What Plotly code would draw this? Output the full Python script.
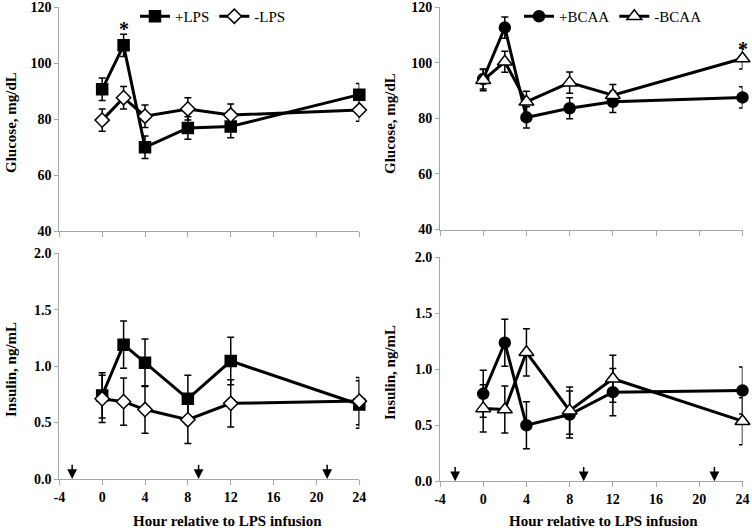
import plotly.graph_objects as go

hours = [0, 2, 4, 8, 12, 24]

# Glucose, mg/dL
glu_plus_lps = [90.6, 106.3, 69.9, 76.8, 77.3, 88.7]
glu_plus_lps_err = [4, 4, 4, 4, 4, 4]
glu_minus_lps = [79.6, 87.6, 81.0, 83.6, 81.4, 83.2]
glu_minus_lps_err = [4, 4, 4, 4, 4, 4]
glu_plus_bcaa = [94.1, 112.6, 80.3, 83.6, 85.9, 87.5]
glu_plus_bcaa_err = [3.6, 3.8, 3.8, 3.8, 3.8, 3.8]
glu_minus_bcaa = [93.7, 100.3, 85.9, 92.8, 88.3, 101.5]
glu_minus_bcaa_err = [3.8, 3.8, 3.8, 3.8, 3.8, 3.8]

# Insulin, ng/mL
ins_plus_lps = [0.74, 1.19, 1.03, 0.71, 1.045, 0.66]
ins_plus_lps_err = [0.2, 0.21, 0.21, 0.21, 0.21, 0.21]
ins_minus_lps = [0.71, 0.685, 0.615, 0.525, 0.67, 0.69]
ins_minus_lps_err = [0.21, 0.21, 0.21, 0.21, 0.21, 0.21]
ins_plus_bcaa = [0.78, 1.235, 0.50, 0.595, 0.795, 0.81]
ins_plus_bcaa_err = [0.21, 0.21, 0.21, 0.21, 0.21, 0.21]
ins_minus_bcaa = [0.65, 0.64, 1.15, 0.63, 0.914, 0.536]
ins_minus_bcaa_err = [0.21, 0.21, 0.21, 0.21, 0.21, 0.21]

arrow_hours_left = [-2.8, 9.0, 21.0]
arrow_hours_right = [-2.6, 9.3, 21.4]
star_left = (2, 112.0)
star_right = (24, 105.0)

glu_ticks = [40, 60, 80, 100, 120]
ins_ticks = [0.0, 0.5, 1.0, 1.5, 2.0]
hour_ticks = [-4, 0, 4, 8, 12, 16, 20, 24]
hour_labels = ["-4", "0", "4", "8", "12", "16", "20", "24"]

W, H = 752, 528
SERIF = "Liberation Serif"
AXC = "#a6a6a6"

fig = go.Figure()


def add_series(x, y, err, xa, ya, name, symbol, filled, size, legend, showlegend):
    fig.add_trace(go.Scatter(
        x=x, y=y, xaxis=xa, yaxis=ya, name=name, mode="lines+markers",
        line=dict(color="black", width=3),
        marker=dict(symbol=symbol, size=size,
                    color="black" if filled else "white",
                    line=dict(color="black", width=1.5)),
        error_y=dict(type="data", array=err, visible=True, color="black",
                     thickness=1.5, width=3.5),
        cliponaxis=False, legend=legend, showlegend=showlegend))


add_series(hours, glu_plus_lps, glu_plus_lps_err, "x", "y", "+LPS", "square", True, 11, "legend", True)
add_series(hours, glu_minus_lps, glu_minus_lps_err, "x", "y", "-LPS", "diamond", False, 11, "legend", True)
add_series(hours, glu_plus_bcaa, glu_plus_bcaa_err, "x2", "y2", "+BCAA", "circle", True, 11, "legend2", True)
add_series(hours, glu_minus_bcaa, glu_minus_bcaa_err, "x2", "y2", "-BCAA", "triangle-up", False, 13, "legend2", True)
add_series(hours, ins_plus_lps, ins_plus_lps_err, "x3", "y3", "+LPS", "square", True, 11, "legend", False)
add_series(hours, ins_minus_lps, ins_minus_lps_err, "x3", "y3", "-LPS", "diamond", False, 11, "legend", False)
add_series(hours, ins_plus_bcaa, ins_plus_bcaa_err, "x4", "y4", "+BCAA", "circle", True, 11, "legend2", False)
add_series(hours, ins_minus_bcaa, ins_minus_bcaa_err, "x4", "y4", "-BCAA", "triangle-up", False, 13, "legend2", False)

tickfont = dict(family=SERIF, size=14, color="black", weight="bold")


def px_x(a, b):
    return [a / W, b / W]


def px_y(top, bottom):
    return [(H - bottom) / H, (H - top) / H]


xcommon = dict(range=[-4, 24], tickvals=hour_ticks, ticktext=hour_labels, showline=True,
               linecolor=AXC, linewidth=1, ticks="outside", ticklen=5, tickcolor=AXC,
               showgrid=False, zeroline=False, tickfont=tickfont, automargin=False,
               ticklabeloverflow="allow")
ycommon = dict(showline=True, linecolor=AXC, linewidth=1, ticks="outside", ticklen=4,
               tickcolor=AXC, showgrid=False, zeroline=False, tickfont=tickfont,
               automargin=False, ticklabeloverflow="allow")

fig.update_layout(
    template="none",
    width=W, height=H, margin=dict(l=0, r=0, t=0, b=0, autoexpand=False),
    plot_bgcolor="white", paper_bgcolor="white",
    xaxis=dict(domain=px_x(59.3, 359.3), anchor="y", showticklabels=False, **xcommon),
    yaxis=dict(domain=px_y(7, 231), anchor="x", range=[40, 120], tickvals=glu_ticks, **ycommon),
    xaxis2=dict(domain=px_x(440, 742.5), anchor="y2", showticklabels=False, **xcommon),
    yaxis2=dict(domain=px_y(7, 229.5), anchor="x2", range=[40, 120], tickvals=glu_ticks, **ycommon),
    xaxis3=dict(domain=px_x(59.3, 359.3), anchor="y3", **xcommon),
    yaxis3=dict(domain=px_y(253.2, 479), anchor="x3", range=[0, 2], tickvals=ins_ticks,
                tickformat=".1f", **ycommon),
    xaxis4=dict(domain=px_x(440, 742.5), anchor="y4", **xcommon),
    yaxis4=dict(domain=px_y(257, 481.3), anchor="x4", range=[0, 2], tickvals=ins_ticks,
                tickformat=".1f", **ycommon),
    legend=dict(orientation="h", x=213 / W, xanchor="center", y=1.0, yanchor="top",
                font=dict(family=SERIF, size=15, color="black"), bgcolor="rgba(0,0,0,0)",
                itemwidth=30, tracegroupgap=0),
    legend2=dict(orientation="h", x=613 / W, xanchor="center", y=1.0, yanchor="top",
                 font=dict(family=SERIF, size=15, color="black"), bgcolor="rgba(0,0,0,0)",
                 itemwidth=30, tracegroupgap=0),
)

ann = []
titlefont = dict(family=SERIF, size=15, color="black", weight="bold")
for xc, yc, txt in [(11, 123, "Glucose, mg/dL"), (390, 123, "Glucose, mg/dL"),
                    (11, 370, "Insulin, ng/mL"), (390, 372, "Insulin, ng/mL")]:
    ann.append(dict(x=xc / W, y=1 - yc / H, xref="paper", yref="paper", text=txt,
                    textangle=-90, showarrow=False, font=titlefont,
                    xanchor="center", yanchor="middle"))
for xc in [227, 603]:
    ann.append(dict(x=xc / W, y=1 - 521 / H, xref="paper", yref="paper",
                    text="Hour relative to LPS infusion", showarrow=False, font=titlefont,
                    xanchor="center", yanchor="middle"))
ann.append(dict(x=star_left[0], y=star_left[1], xref="x", yref="y", text="*", showarrow=False,
                font=dict(family=SERIF, size=20, color="black", weight="bold")))
ann.append(dict(x=star_right[0], y=star_right[1], xref="x2", yref="y2", text="*", showarrow=False,
                font=dict(family=SERIF, size=20, color="black", weight="bold")))
for hrs, xa, ya in [(arrow_hours_left, "x3", "y3"), (arrow_hours_right, "x4", "y4")]:
    for h in hrs:
        ann.append(dict(x=h, y=0.0, ax=h, ay=0.14, xref=xa, yref=ya, axref=xa, ayref=ya,
                        showarrow=True, arrowhead=2, arrowsize=1.3, arrowwidth=1.5,
                        arrowcolor="black", text=""))
fig.update_layout(annotations=ann)

fig.write_html("out.html", config={"displayModeBar": False},
               post_script="document.body.style.margin='0';document.body.style.overflow='hidden';")
